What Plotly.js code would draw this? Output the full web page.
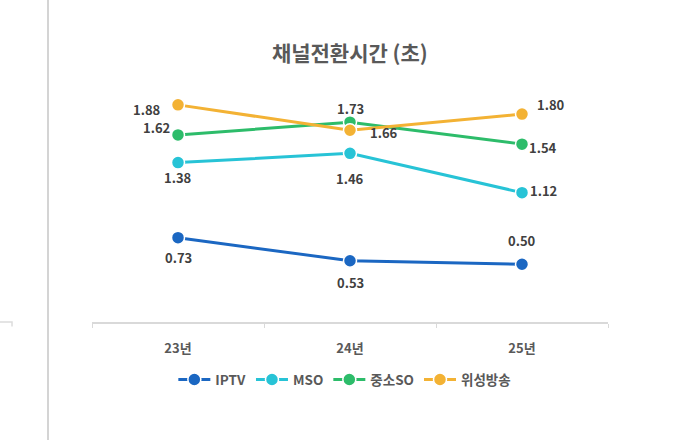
<!DOCTYPE html>
<html>
<head>
<meta charset="utf-8">
<script src="https://cdn.plot.ly/plotly-3.0.1.min.js"></script>
<style>
html,body{margin:0;padding:0;background:#fff;}
#chart{width:686px;height:440px;}
</style>
</head>
<body>
<div id="chart"></div>
<script>
var categories = ['23년', '24년', '25년'];
var seriesNames = ['IPTV', 'MSO', '중소SO', '위성방송'];
var iptv = [0.73, 0.53, 0.50];
var mso = [1.38, 1.46, 1.12];
var smallSO = [1.62, 1.73, 1.54];
var satellite = [1.88, 1.66, 1.80];

var colors = ['#1B67C2', '#27C3D6', '#2DBC6A', '#F3B234'];
var values = [iptv, mso, smallSO, satellite];

// label offsets in pixels [dx, dy(up positive)] per series / point
var labelOffsets = [
  [[0, -20], [0, -22], [0, 24]],
  [[0, -15], [0, -25], [21, 2]],
  [[-22, 7], [0, 14], [21, -3]],
  [[-31, -5], [34, -2], [29, 10]]
];

var traces = values.map(function (v, i) {
  return {
    x: categories,
    y: v,
    name: seriesNames[i],
    type: 'scatter',
    mode: 'lines+markers',
    line: {color: colors[i], width: 3},
    marker: {color: colors[i], size: 13, line: {color: '#ffffff', width: 1.5}},
    cliponaxis: false,
    hoverinfo: 'x+y+name'
  };
});

var labelFont = {family: 'Noto Sans CJK KR, Noto Sans, sans-serif', size: 13, color: '#404040', weight: 'bold'};
var annotations = [];
values.forEach(function (v, i) {
  v.forEach(function (d, j) {
    annotations.push({
      x: categories[j], y: d, xref: 'x', yref: 'y',
      text: d.toFixed(2), showarrow: false,
      xshift: labelOffsets[i][j][0], yshift: labelOffsets[i][j][1],
      font: labelFont
    });
  });
});

var layout = {
  width: 686,
  height: 440,
  margin: {l: 92, r: 78, t: 91, b: 118},
  paper_bgcolor: '#ffffff',
  plot_bgcolor: '#ffffff',
  title: {
    text: '채널전환시간 (초)',
    font: {family: 'Noto Sans CJK KR, sans-serif', size: 21, color: '#595959', weight: 'bold'},
    x: 0.51, xanchor: 'center',
    y: 0.878, yanchor: 'middle'
  },
  xaxis: {
    type: 'category',
    range: [-0.5, 2.5],
    showgrid: false,
    zeroline: false,
    showline: true,
    linecolor: '#d9d9d9',
    linewidth: 1.5,
    ticks: 'outside',
    tickson: 'boundaries',
    ticklen: 4,
    tickcolor: '#d9d9d9',
    ticklabelstandoff: 14,
    tickfont: {family: 'Noto Sans CJK KR, sans-serif', size: 13, color: '#595959', weight: 'bold'}
  },
  yaxis: {
    range: [0, 2.0],
    visible: false,
    showgrid: false,
    zeroline: false
  },
  showlegend: true,
  legend: {
    orientation: 'h',
    x: 0.49, xanchor: 'center',
    y: -0.25, yanchor: 'middle',
    font: {family: 'Noto Sans CJK KR, sans-serif', size: 13.5, color: '#595959', weight: 'bold'},
    itemwidth: 32,
    tracegroupgap: 0
  },
  annotations: annotations,
  shapes: [
    {type: 'line', xref: 'paper', yref: 'paper', x0: -0.0853, x1: -0.0853, y0: -0.52, y1: 1.40,
     line: {color: '#d4d4d4', width: 2}},
    {type: 'path', xref: 'paper', yref: 'paper', path: 'M -0.19 0 L -0.155 0 L -0.155 -0.02',
     line: {color: '#dcdcdc', width: 1.5}}
  ]
};

Plotly.newPlot('chart', traces, layout, {displayModeBar: false, staticPlot: true});
</script>
</body>
</html>
